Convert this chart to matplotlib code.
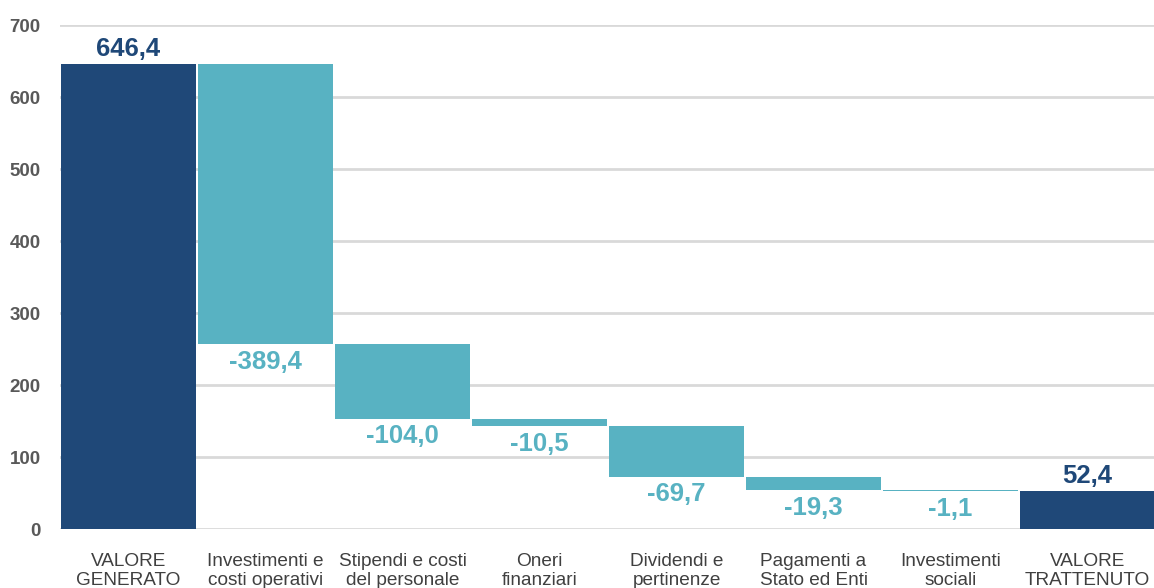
import matplotlib
matplotlib.use("Agg")
import matplotlib.pyplot as plt

categories = ["VALORE\nGENERATO", "Investimenti e\ncosti operativi", "Stipendi e costi\ndel personale",
              "Oneri\nfinanziari", "Dividendi e\npertinenze", "Pagamenti a\nStato ed Enti",
              "Investimenti\nsociali", "VALORE\nTRATTENUTO"]
values = [646.4, -389.4, -104.0, -10.5, -69.7, -19.3, -1.1, 52.4]
is_total = [True, False, False, False, False, False, False, True]
y_ticks = [0, 100, 200, 300, 400, 500, 600, 700]

NAVY = "#1F4878"
TEAL = "#58B2C2"

plt.rcParams['font.family'] = ['Liberation Sans', 'DejaVu Sans']

fig = plt.figure(figsize=(11.54, 5.88), dpi=100)
ax = fig.add_axes([60/1154, 59/588, 1096/1154, 504/588])

def fmt(v):
    return f"{v:.1f}".replace(".", ",")

running = 0.0
for i, (v, tot) in enumerate(zip(values, is_total)):
    if tot:
        bottom, height = 0, v
        running = v
        color = NAVY
    else:
        bottom, height = running + v, -v
        running = running + v
        color = TEAL
    ax.bar(i, height, bottom=bottom, width=0.985, color=color, zorder=3, linewidth=0)
    if tot:
        ax.annotate(fmt(v), (i, bottom + height), xytext=(0, 2), textcoords="offset points",
                    ha="center", va="bottom", fontsize=18.5, fontweight="bold", color=NAVY)
    else:
        ax.annotate(fmt(v), (i, bottom), xytext=(0, -4), textcoords="offset points",
                    ha="center", va="top", fontsize=18.5, fontweight="bold", color=TEAL)

ax.set_xlim(-0.5, len(values) - 0.5)
ax.set_ylim(0, 700)
ax.set_yticks(y_ticks)
ax.set_yticklabels([str(t) for t in y_ticks], fontsize=13.5, fontweight="bold", color="#595959")
ax.set_xticks(range(len(categories)))
ax.set_xticklabels(categories, fontsize=13.7, color="#404040", linespacing=1.2)
ax.tick_params(axis="both", length=0)
ax.tick_params(axis="x", pad=17)
ax.tick_params(axis="y", pad=14)
for s in ax.spines.values():
    s.set_visible(False)
ax.grid(axis="y", color="#D9D9D9", linewidth=2, zorder=0)
ax.set_axisbelow(True)

fig.savefig("out.png", dpi=100)
